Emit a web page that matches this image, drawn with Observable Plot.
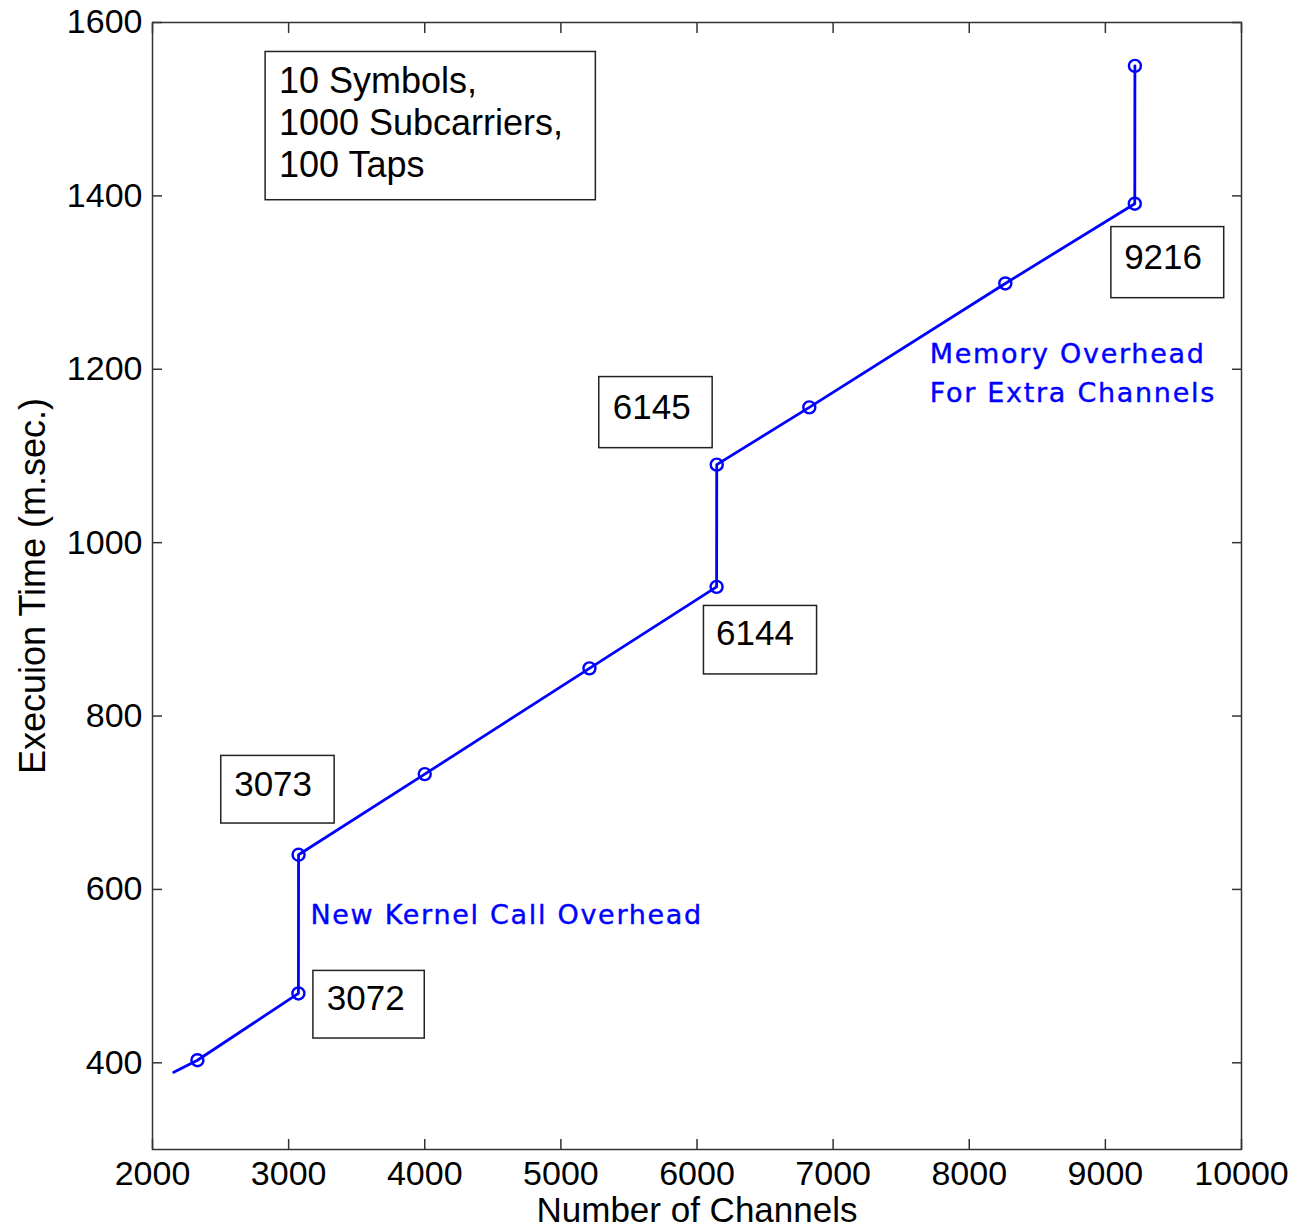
<!DOCTYPE html>
<html><head><meta charset="utf-8">
<script src="https://cdn.jsdelivr.net/npm/d3@7"></script>
<script src="https://cdn.jsdelivr.net/npm/@observablehq/plot@0.6"></script>
<style>body{margin:0;background:#fff;}</style>
</head><body><div id="chart"></div>
<script>
// ---- data ----
const channels = [2156, 2330, 3072, 3073, 4000, 5210, 6144, 6145, 6825, 8265, 9216, 9217];
const execTime = [389, 403, 480, 640, 733, 855, 949, 1090, 1156, 1299, 1391, 1550];
const markerShown = [false, true, true, true, true, true, true, true, true, true, true, true];
const xTicks = [2000, 3000, 4000, 5000, 6000, 7000, 8000, 9000, 10000];
const yTicks = [400, 600, 800, 1000, 1200, 1400, 1600];
const boxLabels = ["3072", "3073", "6144", "6145", "9216"];
const infoLines = ["10 Symbols,", "1000 Subcarriers,", "100 Taps"];
const noteKernel = "New Kernel Call Overhead";
const noteMemory = ["Memory Overhead", "For Extra Channels"];
const xLabel = "Number of Channels";
const yLabel = "Execuion Time (m.sec.)";

// ---- layout of annotations (data units) ----
const boxLayout = [
  {x1: 3182, x2: 4000, y1: 506, y2: 428, tx: 3566, ty: 474},
  {x1: 2505, x2: 3338, y1: 754, y2: 676, tx: 2886, ty: 721},
  {x1: 6051, x2: 6882, y1: 927, y2: 848, tx: 6426, ty: 895},
  {x1: 5282, x2: 6115, y1: 1191, y2: 1109, tx: 5668, ty: 1155},
  {x1: 9044, x2: 9873, y1: 1364, y2: 1282, tx: 9424, ty: 1329}
];
const boxes = boxLabels.map((label, i) => ({label, ...boxLayout[i]}));
const data = channels.map((c, i) => ({c, t: execTime[i], m: markerShown[i]}));

const blue = "#0000ff";
const font = "Arial, 'Liberation Sans', Helvetica, sans-serif";
const noteFont = "'DejaVu Sans', Verdana, sans-serif";

const chart = Plot.plot({
  width: 1308, height: 1229,
  marginLeft: 152, marginRight: 67, marginTop: 22, marginBottom: 80,
  x: {domain: [2000, 10000]},
  y: {domain: [300, 1600]},
  style: {fontFamily: font, fontSize: "34px", background: "white", color: "#000", overflow: "visible"},
  marks: [
    Plot.axisX(xTicks, {anchor: "bottom", tickSize: -10, tickFormat: () => "", label: null, stroke: "#333", strokeWidth: 1.5}),
    Plot.axisX(xTicks, {anchor: "top", tickSize: -10, tickFormat: () => "", label: null, stroke: "#333", strokeWidth: 1.5}),
    Plot.axisY(yTicks, {anchor: "left", tickSize: -10, tickFormat: () => "", label: null, stroke: "#333", strokeWidth: 1.5}),
    Plot.axisY(yTicks, {anchor: "right", tickSize: -10, tickFormat: () => "", label: null, stroke: "#333", strokeWidth: 1.5}),
    Plot.axisX(xTicks, {anchor: "bottom", tickSize: 0, tickPadding: 11, label: null, fontSize: 34, fill: "#000", tickFormat: d => String(d)}),
    Plot.axisY(yTicks, {anchor: "left", tickSize: 0, tickPadding: 10, label: null, fontSize: 34, fill: "#000", tickFormat: d => String(d)}),
    Plot.frame({stroke: "#333", strokeWidth: 1.5}),
    Plot.line(data, {x: "c", y: "t", stroke: blue, strokeWidth: 2.8}),
    Plot.dot(data.filter(d => d.m), {x: "c", y: "t", r: 6, stroke: blue, strokeWidth: 2.4, fill: "none"}),
    Plot.rect(boxes, {x1: "x1", x2: "x2", y1: "y1", y2: "y2", fill: "white", stroke: "#222", strokeWidth: 1.5}),
    Plot.text(boxes, {x: "tx", y: "ty", text: "label", fontSize: 35, fill: "#000", lineAnchor: "middle"}),
    Plot.rect([infoLines], {x1: 2831, x2: 5257, y1: 1566, y2: 1395, fill: "white", stroke: "#222", strokeWidth: 1.5}),
    Plot.text([infoLines.join("\n")], {x: 2929, y: 1486, textAnchor: "start", lineAnchor: "middle", lineHeight: 1.167, fontSize: 36, fill: "#000"}),
    Plot.text([noteKernel], {x: 3160, y: 570, textAnchor: "start", lineAnchor: "middle", fontSize: 27, fill: blue, stroke: blue, strokeWidth: 0.4, fontFamily: noteFont}),
    Plot.text([noteMemory.join("\n")], {x: 7710, y: 1199, textAnchor: "start", lineAnchor: "middle", lineHeight: 1.46, fontSize: 27, fill: blue, stroke: blue, strokeWidth: 0.4, fontFamily: noteFont}),
    Plot.text([xLabel], {frameAnchor: "bottom", dy: 61, lineAnchor: "middle", fontSize: 35, fill: "#000"}),
    Plot.text([yLabel], {frameAnchor: "left", dx: -119, rotate: -90, textAnchor: "middle", lineAnchor: "middle", fontSize: 36, fill: "#000"})
  ]
});

d3.select(chart).selectAll("g[aria-label='text']")
  .filter(function() { return (this.getAttribute("font-family") || "").includes("DejaVu"); })
  .style("letter-spacing", "1.7px");

document.getElementById("chart").appendChild(chart);
</script>
</body></html>
